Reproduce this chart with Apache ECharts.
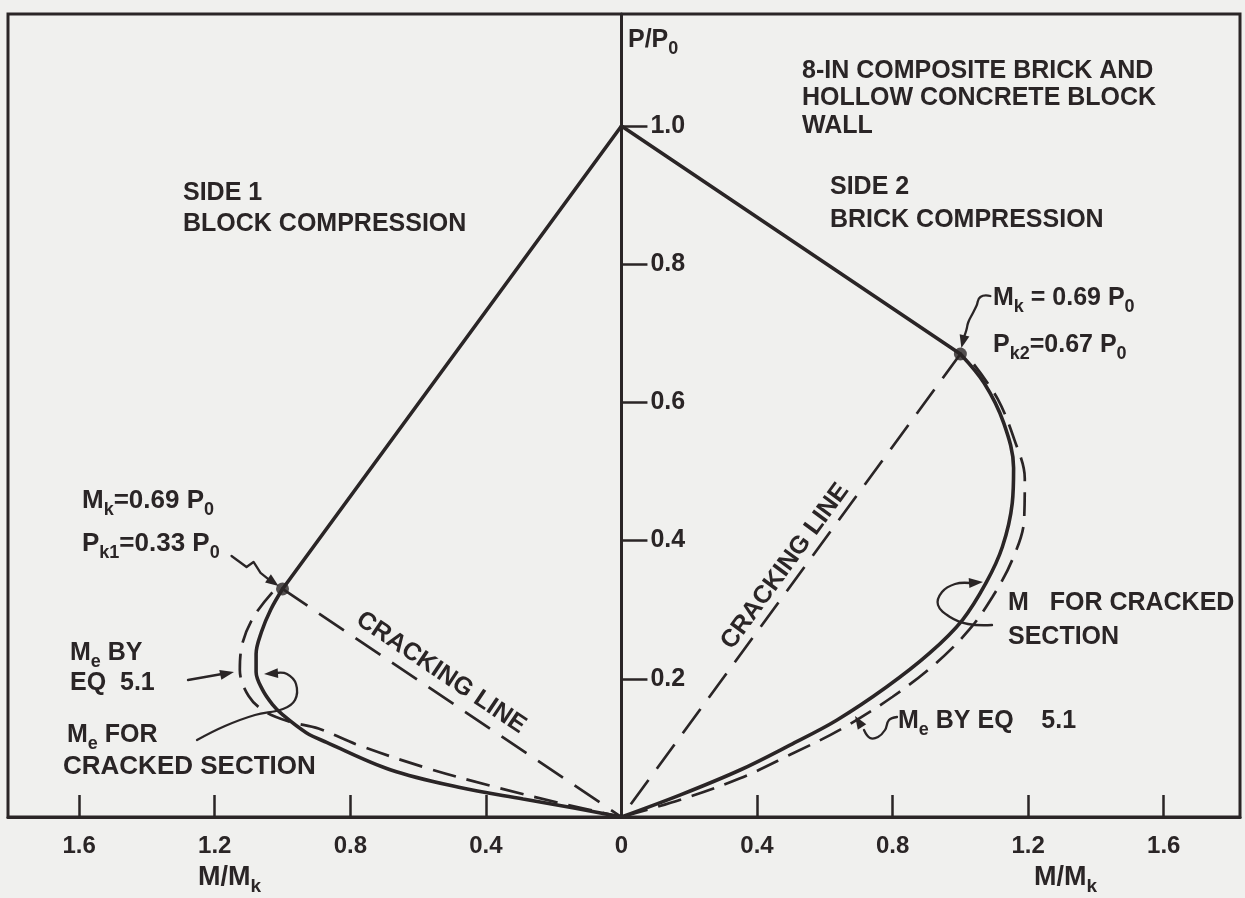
<!DOCTYPE html>
<html>
<head>
<meta charset="utf-8">
<script src="https://cdn.jsdelivr.net/npm/echarts@6/dist/echarts.min.js"></script>
<style>
  html, body { margin: 0; padding: 0; background: #f0f0ee; }
  #chart { width: 1245px; height: 898px; }
</style>
</head>
<body>
<div id="chart"></div>
<script>
// Interaction diagram, 8-in composite brick / hollow block wall.
// Side 1 (block in compression) is plotted at negative M/Mk, side 2 (brick) at positive M/Mk.

const xTickValues = [-1.6, -1.2, -0.8, -0.4, 0.4, 0.8, 1.2, 1.6];
const xLabelValues = [-1.6, -1.2, -0.8, -0.4, 0, 0.4, 0.8, 1.2, 1.6];
const yTickValues = [0.2, 0.4, 0.6, 0.8, 1.0];

// Axial capacity and the two kink (cracking) points
const crushPoint = [0, 1.0];
const side1Kink = [-1.0, 0.33];
const side2Kink = [1.0, 0.67];

// Side 1: Me for cracked section (solid)
const side1Cracked = [
  [-1.0, 0.33], [-1.035, 0.30], [-1.062, 0.268], [-1.078, 0.236], [-1.078, 0.21],
  [-1.06, 0.185], [-1.03, 0.163], [-1.0, 0.148], [-0.93, 0.122], [-0.87, 0.108],
  [-0.68, 0.068], [-0.48, 0.043], [-0.29, 0.026], [-0.14, 0.013], [0, 0]
];
// Side 1: Me by Eq 5.1 (dashed)
const side1Eq51 = [
  [-1.03, 0.325], [-1.085, 0.29], [-1.118, 0.252], [-1.126, 0.213], [-1.1, 0.175],
  [-1.05, 0.152], [-0.98, 0.138], [-0.894, 0.128], [-0.776, 0.104], [-0.582, 0.072],
  [-0.385, 0.045], [-0.188, 0.021], [0, 0]
];
// Side 2: M for cracked section (solid)
const side2Cracked = [
  [1.0, 0.67], [1.07, 0.628], [1.128, 0.57], [1.157, 0.505], [1.153, 0.454],
  [1.124, 0.391], [1.076, 0.339], [1.006, 0.285], [0.909, 0.237], [0.782, 0.188],
  [0.635, 0.140], [0.497, 0.104], [0.35, 0.068], [0.174, 0.032], [0, 0]
];
// Side 2: Me by Eq 5.1 (dashed)
const side2Eq51 = [
  [1.04, 0.655], [1.11, 0.605], [1.16, 0.545], [1.19, 0.49], [1.188, 0.43],
  [1.153, 0.372], [1.094, 0.318], [1.026, 0.271], [0.929, 0.223], [0.8, 0.174],
  [0.644, 0.126], [0.497, 0.090], [0.35, 0.056], [0.174, 0.025], [0, 0]
];

const INK = '#2a2526';
const FONT = '"Liberation Sans", "DejaVu Sans", sans-serif';

// plot frame and value ranges
const X_MIN = -1.81, X_MAX = 1.825, Y_MIN = 0, Y_MAX = 1.162;
const GRID = { left: 8, right: 5, top: 14, bottom: 81 };
const CHART_W = 1245;
const gridW = CHART_W - GRID.left - GRID.right;
// shift the P/P0 axis from the frame edge to M/Mk = 0
const yAxisOffset = -gridW * (0 - X_MIN) / (X_MAX - X_MIN);

const chart = echarts.init(document.getElementById('chart'), null, { renderer: 'canvas' });

function solidLine(data, smooth) {
  return {
    type: 'line', data: data, smooth: smooth, symbol: 'none', silent: true,
    lineStyle: { color: INK, width: 3.6, cap: 'round' }, z: 5
  };
}
function dashedLine(data, smooth, dash) {
  return {
    type: 'line', data: data, smooth: smooth, symbol: 'none', silent: true,
    lineStyle: { color: INK, width: 2.7, type: dash }, z: 4
  };
}

chart.setOption({
  backgroundColor: '#f0f0ee',
  animation: false,
  grid: Object.assign({ show: true, borderColor: INK, borderWidth: 3, backgroundColor: 'transparent' }, GRID),
  xAxis: {
    type: 'value', min: X_MIN, max: X_MAX,
    axisLine: { onZero: false, lineStyle: { color: INK, width: 3 } },
    axisTick: { show: true, inside: true, length: 22, customValues: xTickValues,
      lineStyle: { color: INK, width: 2.5 } },
    axisLabel: { customValues: xLabelValues, color: INK, fontSize: 24, fontWeight: 'bold',
      fontFamily: FONT, margin: 17, formatter: v => (v === 0 ? '0' : Math.abs(v).toFixed(1)) },
    splitLine: { show: false }
  },
  yAxis: {
    type: 'value', min: Y_MIN, max: Y_MAX, offset: yAxisOffset,
    axisLine: { onZero: false, lineStyle: { color: INK, width: 3 } },
    axisTick: { show: true, inside: true, length: 26, customValues: yTickValues,
      lineStyle: { color: INK, width: 2.5 } },
    axisLabel: { inside: true, customValues: yTickValues, color: INK, fontSize: 25,
      fontWeight: 'bold', fontFamily: FONT, margin: 29, formatter: v => v.toFixed(1) },
    splitLine: { show: false }
  },
  series: [
    solidLine([crushPoint, side1Kink], false),
    solidLine(side1Cracked, 0.35),
    dashedLine(side1Eq51, 0.35, [24, 11]),
    dashedLine([side1Kink, [0, 0]], false, [30, 14]),
    solidLine([crushPoint, side2Kink], false),
    solidLine(side2Cracked, 0.35),
    dashedLine(side2Eq51, 0.35, [24, 11]),
    dashedLine([side2Kink, [0, 0]], false, [30, 14]),
    {
      type: 'scatter', data: [side1Kink, side2Kink], symbol: 'circle', symbolSize: 13,
      itemStyle: { color: INK }, silent: true, z: 6
    }
  ]
});

// ---- annotations ----
function label(x, y, text, size) {
  const fs = size || 25;
  return {
    type: 'text', x: x, y: y, z: 20, silent: true,
    style: {
      text: text, fill: INK, fontSize: fs, fontWeight: 'bold', fontFamily: FONT,
      lineHeight: 36, align: 'left', verticalAlign: 'middle',
      rich: {
        s: { fontSize: Math.round(fs * 0.7), lineHeight: 10, verticalAlign: 'bottom',
          fontFamily: FONT, fontWeight: 'bold', fill: INK }
      }
    }
  };
}
function leader(points, smooth) {
  return { type: 'polyline', z: 20, silent: true, shape: { points: points, smooth: smooth || 0 },
    style: { stroke: INK, lineWidth: 2.3, fill: null, lineCap: 'round', lineJoin: 'round' } };
}
function arrowHead(tip, from, len, half) {
  const dx = tip[0] - from[0], dy = tip[1] - from[1];
  const L = Math.hypot(dx, dy) || 1, ux = dx / L, uy = dy / L;
  const bx = tip[0] - ux * len, by = tip[1] - uy * len;
  return { type: 'polygon', z: 21, silent: true,
    shape: { points: [tip, [bx - uy * half, by + ux * half], [bx + uy * half, by - ux * half]] },
    style: { fill: INK } };
}
function rel(p, pts) { return pts.map(d => [p[0] + d[0], p[1] + d[1]]); }

const k1 = chart.convertToPixel({ gridIndex: 0 }, side1Kink);
const k2 = chart.convertToPixel({ gridIndex: 0 }, side2Kink);
const o = chart.convertToPixel({ gridIndex: 0 }, [0, 0]);

// caption set along a cracking line: moved `along` px toward the kink and `off` px to its upper side
function lineCaption(from, to, along, off, size) {
  const dx = to[0] - from[0], dy = to[1] - from[1];
  const L = Math.hypot(dx, dy), ux = dx / L, uy = dy / L;
  let nx = uy, ny = -ux;            // normal pointing up on screen
  if (ny > 0) { nx = -nx; ny = -ny; }
  let ang = Math.atan2(dy, dx);
  if (Math.abs(ang) > Math.PI / 2) ang += (ang > 0 ? -Math.PI : Math.PI);
  const mx = (from[0] + to[0]) / 2 + ux * along + nx * off;
  const my = (from[1] + to[1]) / 2 + uy * along + ny * off;
  return {
    type: 'text', z: 20, silent: true, x: mx, y: my, rotation: -ang,
    style: { text: 'CRACKING LINE', fill: INK, fontSize: size, fontWeight: 'bold', fontFamily: FONT,
      align: 'center', verticalAlign: 'middle' }
  };
}

const elements = [
  // axis titles
  label(628, 40, 'P/P{s|0}', 25),
  label(198, 878, 'M/M{s|k}', 27),
  label(1034, 878, 'M/M{s|k}', 27),
  // wall description
  label(802, 71, '8-IN COMPOSITE BRICK AND', 25),
  label(802, 98, 'HOLLOW CONCRETE BLOCK', 25),
  label(802, 126, 'WALL', 25),
  // sides
  label(183, 193, 'SIDE 1', 25),
  label(183, 224, 'BLOCK COMPRESSION', 25),
  label(830, 187, 'SIDE 2', 25),
  label(830, 220, 'BRICK COMPRESSION', 25),
  // kink point notes
  label(82, 501, 'M{s|k}=0.69 P{s|0}', 26),
  label(82, 544, 'P{s|k1}=0.33 P{s|0}', 26),
  label(993, 298, 'M{s|k} = 0.69 P{s|0}', 25),
  label(993, 345, 'P{s|k2}=0.67 P{s|0}', 25),
  // curve notes
  label(70, 653, 'M{s|e} BY', 25),
  label(70, 683, 'EQ  5.1', 25),
  label(67, 735, 'M{s|e} FOR', 25),
  label(63, 767, 'CRACKED SECTION', 26),
  label(1008, 603, 'M   FOR CRACKED', 25),
  label(1008, 637, 'SECTION', 25),
  label(898, 721, 'M{s|e} BY EQ    5.1', 25),
  // cracking line captions
  lineCaption(o, k1, 26, 19, 25),
  lineCaption(o, k2, 12, 16, 25),
  // leaders to the kink points
  leader(rel(k1, [[-51, -33], [-36, -22], [-29, -27], [-22, -16], [-12, -8]])),
  arrowHead([k1[0] - 4, k1[1] - 3], [k1[0] - 22, k1[1] - 16], 13, 5),
  leader(rel(k2, [[30, -58], [20, -57], [16, -48], [12, -40], [8, -32], [6, -24], [4, -18]]), 0.5),
  arrowHead([k2[0] + 1, k2[1] - 6], [k2[0] + 5, k2[1] - 22], 13, 5),
  // leaders to the curves
  leader([[188, 680], [222, 674]]),
  arrowHead([234, 672], [220, 675], 14, 5),
  leader([[197, 740], [225, 726], [255, 715], [283, 709], [295, 700], [296, 684], [287, 674], [276, 673]], 0.4),
  arrowHead([264, 674], [280, 673], 14, 5),
  leader([[992, 625], [968, 624], [950, 617], [938, 605], [942, 592], [955, 584], [970, 583]], 0.4),
  arrowHead([983, 582], [968, 583], 14, 5),
  leader([[897, 717], [889, 720], [885, 730], [878, 737], [870, 738], [864, 730]], 0.4),
  arrowHead([855, 716], [864, 730], 13, 5)
];

chart.setOption({ graphic: { elements: elements } });
</script>
</body>
</html>
